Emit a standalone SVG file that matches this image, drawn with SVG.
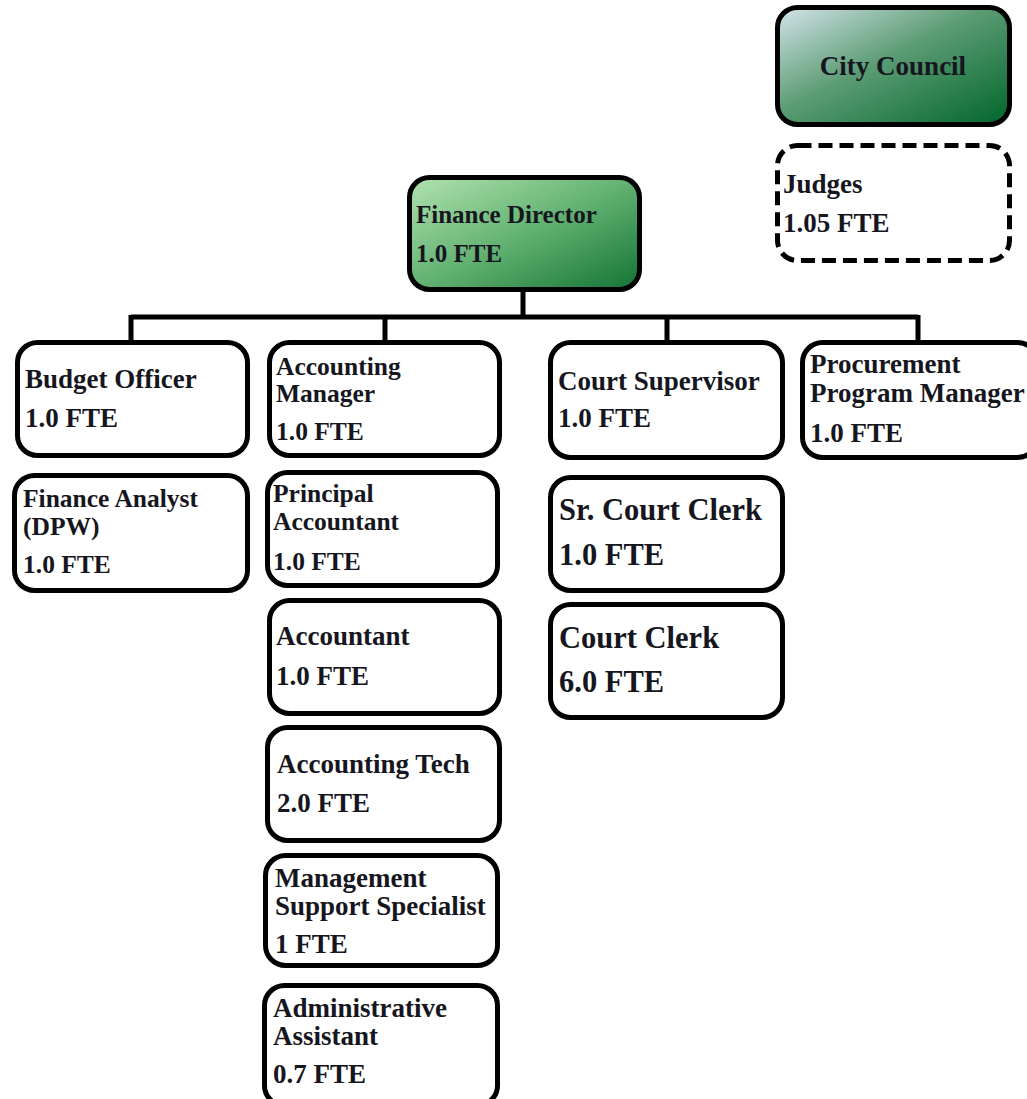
<svg xmlns="http://www.w3.org/2000/svg" width="1027" height="1099" viewBox="0 0 1027 1099">
<defs>
<linearGradient id="gCouncil" x1="0" y1="0" x2="1" y2="1">
<stop offset="0" stop-color="#d4e4ec"/>
<stop offset="0.45" stop-color="#5c9c74"/>
<stop offset="1" stop-color="#00662a"/>
</linearGradient>
<linearGradient id="gDirector" x1="0" y1="0" x2="1" y2="1">
<stop offset="0" stop-color="#b2e2b0"/>
<stop offset="0.5" stop-color="#62b272"/>
<stop offset="1" stop-color="#137434"/>
</linearGradient>
<style>
.box{fill:#fff;stroke:#000;stroke-width:5}
.dash{fill:#fff;stroke:#000;stroke-width:5;stroke-dasharray:14 7}
text{font-family:'Liberation Serif','DejaVu Serif',serif;font-weight:700;font-size:27px;fill:#161620}
.n{font-size:25.5px}
.d{font-size:25px}
.l{font-size:30.5px}
.conn{fill:none;stroke:#000;stroke-width:5}
</style>
</defs>
<rect width="1027" height="1099" fill="#fff"/>
<g id="connectors">
<path class="conn" d="M131 317 H918 M131 315 V342 M385 315 V342 M523 290 V317 M667 315 V342 M918 315 V342"/>
</g>
<g id="city-council">
<rect x="777.5" y="7.5" width="232" height="117" rx="20" fill="url(#gCouncil)" stroke="#000" stroke-width="5"/>
<text x="893" y="75" text-anchor="middle">City Council</text>
</g>
<g id="judges">
<rect class="dash" x="777.5" y="145.5" width="232" height="115" rx="20"/>
<text x="783" y="193">Judges</text>
<text x="783" y="232">1.05 FTE</text>
</g>
<g id="finance-director">
<rect x="409.5" y="177.5" width="230" height="112" rx="20" fill="url(#gDirector)" stroke="#000" stroke-width="5"/>
<text class="d" x="416" y="223">Finance Director</text>
<text class="d" x="416" y="262">1.0 FTE</text>
</g>
<g id="budget-officer">
<rect class="box" x="17.5" y="342.5" width="230" height="113" rx="20"/>
<text x="25" y="388">Budget Officer</text>
<text x="25" y="427">1.0 FTE</text>
</g>
<g id="finance-analyst">
<rect class="box" x="14.5" y="475.5" width="233" height="115" rx="20"/>
<text class="n" x="23" y="507">Finance Analyst</text>
<text class="n" x="23" y="535">(DPW)</text>
<text class="n" x="23" y="573">1.0 FTE</text>
</g>
<g id="accounting-manager">
<rect class="box" x="269.5" y="342.5" width="230" height="113" rx="20"/>
<text class="n" x="276" y="375">Accounting</text>
<text class="n" x="276" y="402">Manager</text>
<text class="n" x="276" y="440">1.0 FTE</text>
</g>
<g id="principal-accountant">
<rect class="box" x="267.5" y="472.5" width="230" height="113" rx="20"/>
<text class="n" x="273" y="502">Principal</text>
<text class="n" x="273" y="530">Accountant</text>
<text class="n" x="273" y="570">1.0 FTE</text>
</g>
<g id="accountant">
<rect class="box" x="269.5" y="600.5" width="230" height="113" rx="20"/>
<text x="276" y="645">Accountant</text>
<text x="276" y="685">1.0 FTE</text>
</g>
<g id="accounting-tech">
<rect class="box" x="267.5" y="727.5" width="232" height="113" rx="20"/>
<text x="277" y="773">Accounting Tech</text>
<text x="277" y="812">2.0 FTE</text>
</g>
<g id="management-support-specialist">
<rect class="box" x="265.5" y="855.5" width="232" height="110" rx="20"/>
<text x="275" y="887">Management</text>
<text x="275" y="915">Support Specialist</text>
<text x="275" y="953">1 FTE</text>
</g>
<g id="administrative-assistant">
<rect class="box" x="264.5" y="985.5" width="233" height="120" rx="20"/>
<text x="273" y="1017">Administrative</text>
<text x="273" y="1045">Assistant</text>
<text x="273" y="1083">0.7 FTE</text>
</g>
<g id="court-supervisor">
<rect class="box" x="550.5" y="342.5" width="232" height="115" rx="20"/>
<text x="558" y="390">Court Supervisor</text>
<text x="558" y="427">1.0 FTE</text>
</g>
<g id="sr-court-clerk">
<rect class="box" x="550.5" y="477.5" width="232" height="113" rx="20"/>
<text class="l" x="559" y="520">Sr. Court Clerk</text>
<text class="l" x="559" y="565">1.0 FTE</text>
</g>
<g id="court-clerk">
<rect class="box" x="550.5" y="604.5" width="232" height="113" rx="20"/>
<text class="l" x="559" y="648">Court Clerk</text>
<text class="l" x="559" y="692">6.0 FTE</text>
</g>
<g id="procurement-program-manager">
<rect class="box" x="802.5" y="342.5" width="235" height="115" rx="20"/>
<text x="810" y="373">Procurement</text>
<text x="810" y="402">Program Manager</text>
<text x="810" y="442">1.0 FTE</text>
</g>
</svg>
